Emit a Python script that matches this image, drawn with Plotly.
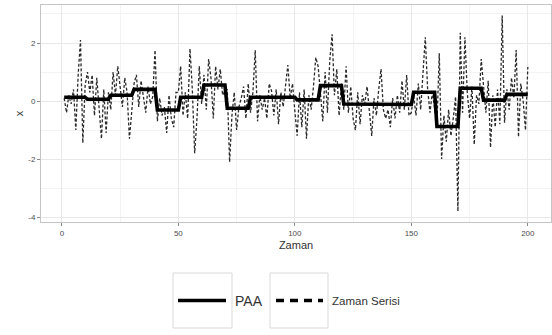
import plotly.graph_objects as go

# ---------------- data ----------------
zaman = list(range(1, 201))

zaman_serisi = [
    0.1, -0.4, 0.2, -0.1, 0.4, -1.0, 0.9, 2.1, -1.45, 0.55,
    1.0, 0.3, 0.9, -0.5, 0.8, -0.2, -1.3, 0.4, -1.1, 0.3,
    -0.3, 1.0, 0.2, 1.2, 0.5, -0.2, 0.8, 0.3, -1.3, -0.2,
    0.6, 0.9, -0.2, 0.7, 0.1, -0.4, 0.5, -0.1, 0.15, 1.75,
    -0.7, 0.1, -0.5, -0.2, -1.1, 0.2, -0.6, -0.9, 0.3, 0.3,
    1.2, -0.5, 0.3, -0.6, 1.8, 0.4, -1.8, -0.6, 1.2, -0.1,
    0.9, -0.3, 1.45, 0.8, -0.6, 1.2, 0.4, 1.1, 0.2, 0.35,
    0.4, -2.1, -0.5, 0.3, -1.0, -0.2, 0.1, 0.5, -0.6, 0.6,
    -0.4, 0.3, 1.75, -0.7, 0.2, -0.3, 0.1, -0.6, 0.6, 0.35,
    -0.5, 0.4, -0.8, 0.3, -0.2, 0.5, 1.24, 0.1, 0.6, -0.34,
    -1.2, 0.3, -0.9, 0.4, -1.3, 0.2, -0.3, 0.5, 1.5, 1.2,
    0.3, -0.7, 1.0, -0.4, 1.4, 2.3, 0.2, 1.1, -0.5, 0.6,
    -0.3, 1.2, -0.4, 0.5, -0.6, -1.0, 0.3, -0.8, 0.2, -0.1,
    0.5, -0.4, -1.2, 0.1, -0.5, 0.4, 1.1, -0.3, -0.6, -0.3,
    -0.9, 0.1, -0.6, 0.2, -0.4, 0.7, -0.3, 0.9, -0.5, -0.4,
    0.2, -0.5, 0.6, -0.3, 0.8, 2.2, 0.4, -0.4, 0.3, -0.3,
    -0.8, 1.65, -2.0, -0.5, -1.4, -0.3, -1.2, -0.6, 0.15, -3.8,
    2.35, -0.4, 2.2, 0.3, -0.6, 0.5, -1.5, 0.2, -0.1, 1.45,
    0.5, -0.4, 0.7, -1.6, 0.2, -0.9, 0.4, -0.8, 2.95, -0.75,
    0.4, -0.3, 0.8, 0.1, 1.76, -1.24, 0.6, 0.0, -1.0, 1.17,
]

# PAA segment means (segments of 10 points)
paa_segment_len = 10
paa_segments = [
    0.13, 0.06, 0.20, 0.40, -0.31, 0.13, 0.55, -0.25, 0.13, 0.13,
    0.04, 0.53, -0.10, -0.12, -0.12, 0.30, -0.88, 0.44, 0.03, 0.23,
]
paa = [v for v in paa_segments for _ in range(paa_segment_len)]

x_ticks = [0, 50, 100, 150, 200]
y_ticks = [-4, -2, 0, 2]

legend_labels = ["PAA", "Zaman Serisi"]

# ---------------- figure ----------------
W, H = 552, 335
L, R, T, B = 41, 1, 5, 113
pw, ph = W - L - R, H - T - B

fig = go.Figure()
fig.add_trace(go.Scatter(
    x=zaman, y=zaman_serisi, mode="lines", name=legend_labels[1],
    line=dict(color="#2a2a2a", width=1.3, dash="3px,2px"), showlegend=False))
fig.add_trace(go.Scatter(
    x=zaman, y=paa, mode="lines", name=legend_labels[0],
    line=dict(color="black", width=3.6), showlegend=False))

FONT = "Liberation Sans, Arial, sans-serif"

def px_x(px):
    return (px - L) / pw

def px_y(py):
    return (H - B - py) / ph

# manual ggplot-like legend with boxed keys
shapes = []
annotations = []
box_color = "#d9d9d9"
for (bx0, bx1) in [(173, 232), (270, 328)]:
    shapes.append(dict(type="rect", xref="paper", yref="paper",
                       x0=px_x(bx0), x1=px_x(bx1), y0=px_y(328), y1=px_y(273),
                       line=dict(color=box_color, width=1), fillcolor="white", layer="above"))
shapes.append(dict(type="line", xref="paper", yref="paper",
                   x0=px_x(178), x1=px_x(226), y0=px_y(300.5), y1=px_y(300.5),
                   line=dict(color="black", width=3.5), layer="above"))
shapes.append(dict(type="line", xref="paper", yref="paper",
                   x0=px_x(276), x1=px_x(323), y0=px_y(300.5), y1=px_y(300.5),
                   line=dict(color="black", width=3.5, dash="8px,6px"), layer="above"))
annotations.append(dict(text=legend_labels[0], xref="paper", yref="paper",
                        x=px_x(233), y=px_y(301), xanchor="left", yanchor="middle",
                        showarrow=False, font=dict(family=FONT, size=14, color="#333333")))
annotations.append(dict(text=legend_labels[1], xref="paper", yref="paper",
                        x=px_x(330), y=px_y(301), xanchor="left", yanchor="middle",
                        showarrow=False, font=dict(family=FONT, size=11.5, color="#333333")))

fig.update_layout(
    width=W, height=H,
    margin=dict(l=L, r=R, t=T, b=B),
    paper_bgcolor="white", plot_bgcolor="white",
    font=dict(family=FONT, color="#4d4d4d"),
    shapes=shapes, annotations=annotations,
    showlegend=False,
)
fig.update_xaxes(
    range=[-8.95, 209.95], tickvals=x_ticks, ticktext=[str(v) for v in x_ticks],
    showgrid=True, gridcolor="#e8e8e8", gridwidth=1,
    minor=dict(dtick=25, tick0=0, showgrid=True, gridcolor="#f3f3f3", gridwidth=0.6),
    zeroline=False, showline=True, mirror=True, linecolor="#c4c4c4", linewidth=1,
    ticks="outside", ticklen=3, tickcolor="#8a8a8a", tickwidth=1,
    tickfont=dict(size=8, color="#4d4d4d"),
    title=dict(text="Zaman", font=dict(size=11, color="#333333"), standoff=4),
)
fig.update_yaxes(
    range=[-4.17, 3.31], tickvals=y_ticks, ticktext=[str(v) for v in y_ticks],
    showgrid=True, gridcolor="#e8e8e8", gridwidth=1,
    minor=dict(dtick=1, tick0=0, showgrid=True, gridcolor="#f3f3f3", gridwidth=0.6),
    zeroline=False, showline=True, mirror=True, linecolor="#c4c4c4", linewidth=1,
    ticks="outside", ticklen=3, tickcolor="#8a8a8a", tickwidth=1,
    tickfont=dict(size=8, color="#4d4d4d"),
    title=dict(text="x", font=dict(size=11, color="#333333"), standoff=2),
)

fig.write_html("out.html")
